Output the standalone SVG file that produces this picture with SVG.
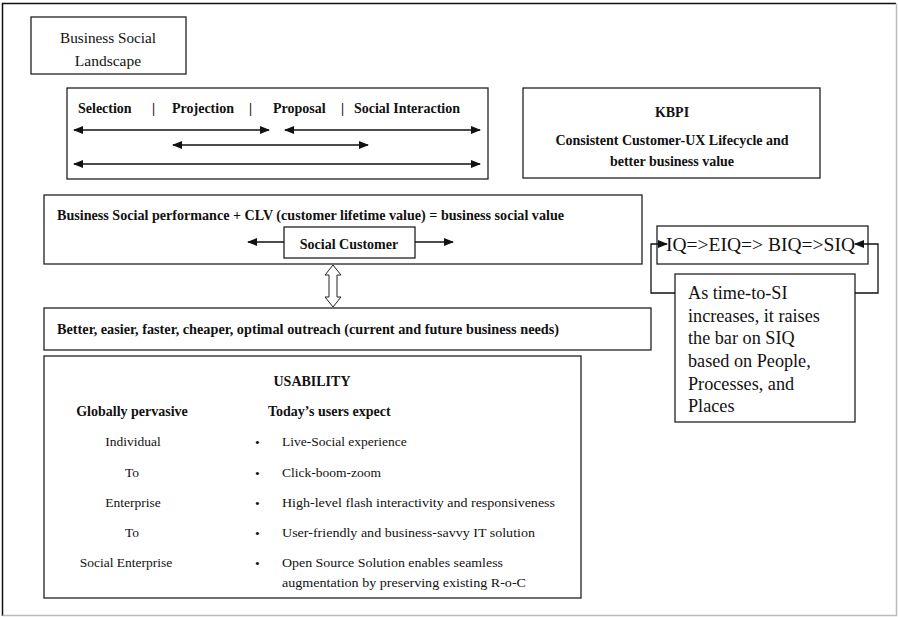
<svg xmlns="http://www.w3.org/2000/svg" width="898" height="617" viewBox="0 0 898 617" font-family="'Liberation Serif', 'Times New Roman', serif">
<style>
.box{fill:#fff;stroke:#222;stroke-width:1.3}
text{font-family:'Liberation Serif','Times New Roman',serif;fill:#111}
.b{font-weight:bold;font-size:14px}
.r{font-size:13.5px}
.l{font-size:18.2px}
.c{stroke:#111;stroke-width:1.3;fill:none}
</style>
<defs>
<marker id="ah" viewBox="0 0 10 8" refX="9" refY="4" markerWidth="10" markerHeight="8" markerUnits="userSpaceOnUse" orient="auto-start-reverse">
<path d="M0,0 L10,4 L0,8 Z" fill="#111"/>
</marker>
</defs>
<rect x="0" y="0" width="898" height="617" fill="#fff"/>
<path d="M2.5,616 V3.5 H896" stroke="#111" stroke-width="1.5" fill="none"/>
<path d="M896.5,3.5 V615.5 H2.5" stroke="#bbb" stroke-width="1.5" fill="none"/>

<g id="landscape">
<rect class="box" x="31" y="17" width="155" height="57"/>
<text x="108" y="43" text-anchor="middle" font-size="15.5" textLength="96" lengthAdjust="spacingAndGlyphs">Business Social</text>
<text x="108" y="66" text-anchor="middle" font-size="15.5">Landscape</text>
</g>

<g id="phases">
<rect class="box" x="67" y="88" width="421" height="91"/>
<text class="b" x="78" y="113">Selection</text>
<text class="b" x="152" y="113">|</text>
<text class="b" x="172" y="113">Projection</text>
<text class="b" x="249" y="113">|</text>
<text class="b" x="273" y="113">Proposal</text>
<text class="b" x="341" y="113">|</text>
<text class="b" x="354" y="113" textLength="106" lengthAdjust="spacingAndGlyphs">Social Interaction</text>
</g>

<g id="kbpi">
<rect class="box" x="523" y="88" width="297" height="90"/>
<text class="b" x="672" y="117" text-anchor="middle">KBPI</text>
<text class="b" x="672" y="145" text-anchor="middle">Consistent Customer-UX Lifecycle and</text>
<text class="b" x="672" y="166" text-anchor="middle">better business value</text>
</g>

<g id="performance">
<rect class="box" x="44" y="195" width="598" height="69"/>
<text class="b" x="57" y="220" textLength="507" lengthAdjust="spacingAndGlyphs">Business Social performance + CLV (customer lifetime  value) = business social value</text>
</g>

<g id="social-customer">
<rect class="box" x="284" y="227" width="131" height="31"/>
<text class="b" x="349" y="249" text-anchor="middle">Social Customer</text>
</g>

<g id="outreach">
<rect class="box" x="44" y="308" width="607" height="42"/>
<text class="b" x="57" y="334" textLength="502" lengthAdjust="spacingAndGlyphs">Better, easier, faster, cheaper, optimal outreach  (current and future business needs)</text>
</g>

<g id="usability">
<rect class="box" x="44" y="356" width="537" height="242"/>
<text class="b" x="312" y="386" text-anchor="middle">USABILITY</text>
<text class="b" x="132" y="416" text-anchor="middle">Globally pervasive</text>
<text class="b" x="268" y="416">Today’s users expect</text>
<text class="r" x="133" y="446" text-anchor="middle">Individual</text>
<text class="r" x="132" y="477" text-anchor="middle">To</text>
<text class="r" x="133" y="507" text-anchor="middle">Enterprise</text>
<text class="r" x="132" y="537" text-anchor="middle">To</text>
<text class="r" x="126" y="567" text-anchor="middle">Social Enterprise</text>
<text class="r" x="255" y="447" font-size="15">•</text>
<text class="r" x="282" y="446">Live-Social experience</text>
<text class="r" x="255" y="478" font-size="15">•</text>
<text class="r" x="282" y="477">Click-boom-zoom</text>
<text class="r" x="255" y="508" font-size="15">•</text>
<text class="r" x="282" y="507" textLength="273" lengthAdjust="spacingAndGlyphs">High-level flash interactivity  and responsiveness</text>
<text class="r" x="255" y="538" font-size="15">•</text>
<text class="r" x="282" y="537" textLength="253" lengthAdjust="spacingAndGlyphs">User-friendly and business-savvy IT solution</text>
<text class="r" x="255" y="568" font-size="15">•</text>
<text class="r" x="282" y="567" textLength="221" lengthAdjust="spacingAndGlyphs">Open Source Solution enables seamless</text>
<text class="r" x="282" y="587" textLength="244" lengthAdjust="spacingAndGlyphs">augmentation by preserving existing R-o-C</text>
</g>

<g id="iq">
<rect class="box" x="657" y="226" width="211" height="38"/>
<text class="l" x="666" y="251" textLength="189" lengthAdjust="spacingAndGlyphs">IQ=&gt;EIQ=&gt; BIQ=&gt;SIQ</text>
</g>

<g id="siq-note">
<rect class="box" x="675" y="274" width="180" height="148"/>
<text class="l" x="688" y="299">As time-to-SI</text>
<text class="l" x="688" y="322">increases, it raises</text>
<text class="l" x="688" y="344">the bar on SIQ</text>
<text class="l" x="688" y="367">based on People,</text>
<text class="l" x="688" y="390">Processes, and</text>
<text class="l" x="688" y="412">Places</text>
</g>

<g id="connectors">
<line class="c" x1="74" y1="130" x2="269" y2="130" marker-start="url(#ah)" marker-end="url(#ah)"/>
<line class="c" x1="285" y1="130" x2="480" y2="130" marker-start="url(#ah)" marker-end="url(#ah)"/>
<line class="c" x1="173" y1="145" x2="368" y2="145" marker-start="url(#ah)" marker-end="url(#ah)"/>
<line class="c" x1="74" y1="164" x2="480" y2="164" marker-start="url(#ah)" marker-end="url(#ah)"/>
<line class="c" x1="284" y1="242" x2="248" y2="242" marker-end="url(#ah)"/>
<line class="c" x1="415" y1="242" x2="453" y2="242" marker-end="url(#ah)"/>
<polygon points="333,265 341,275 337,275 337,297 341,297 333,307 325,297 329,297 329,275 325,275" fill="#fff" stroke="#222" stroke-width="1"/>
<polyline class="c" points="675,293 651,293 651,244 667,244" marker-end="url(#ah)"/>
<polyline class="c" points="855,293 878,293 878,244 855,244" marker-end="url(#ah)"/>
</g>
</svg>
